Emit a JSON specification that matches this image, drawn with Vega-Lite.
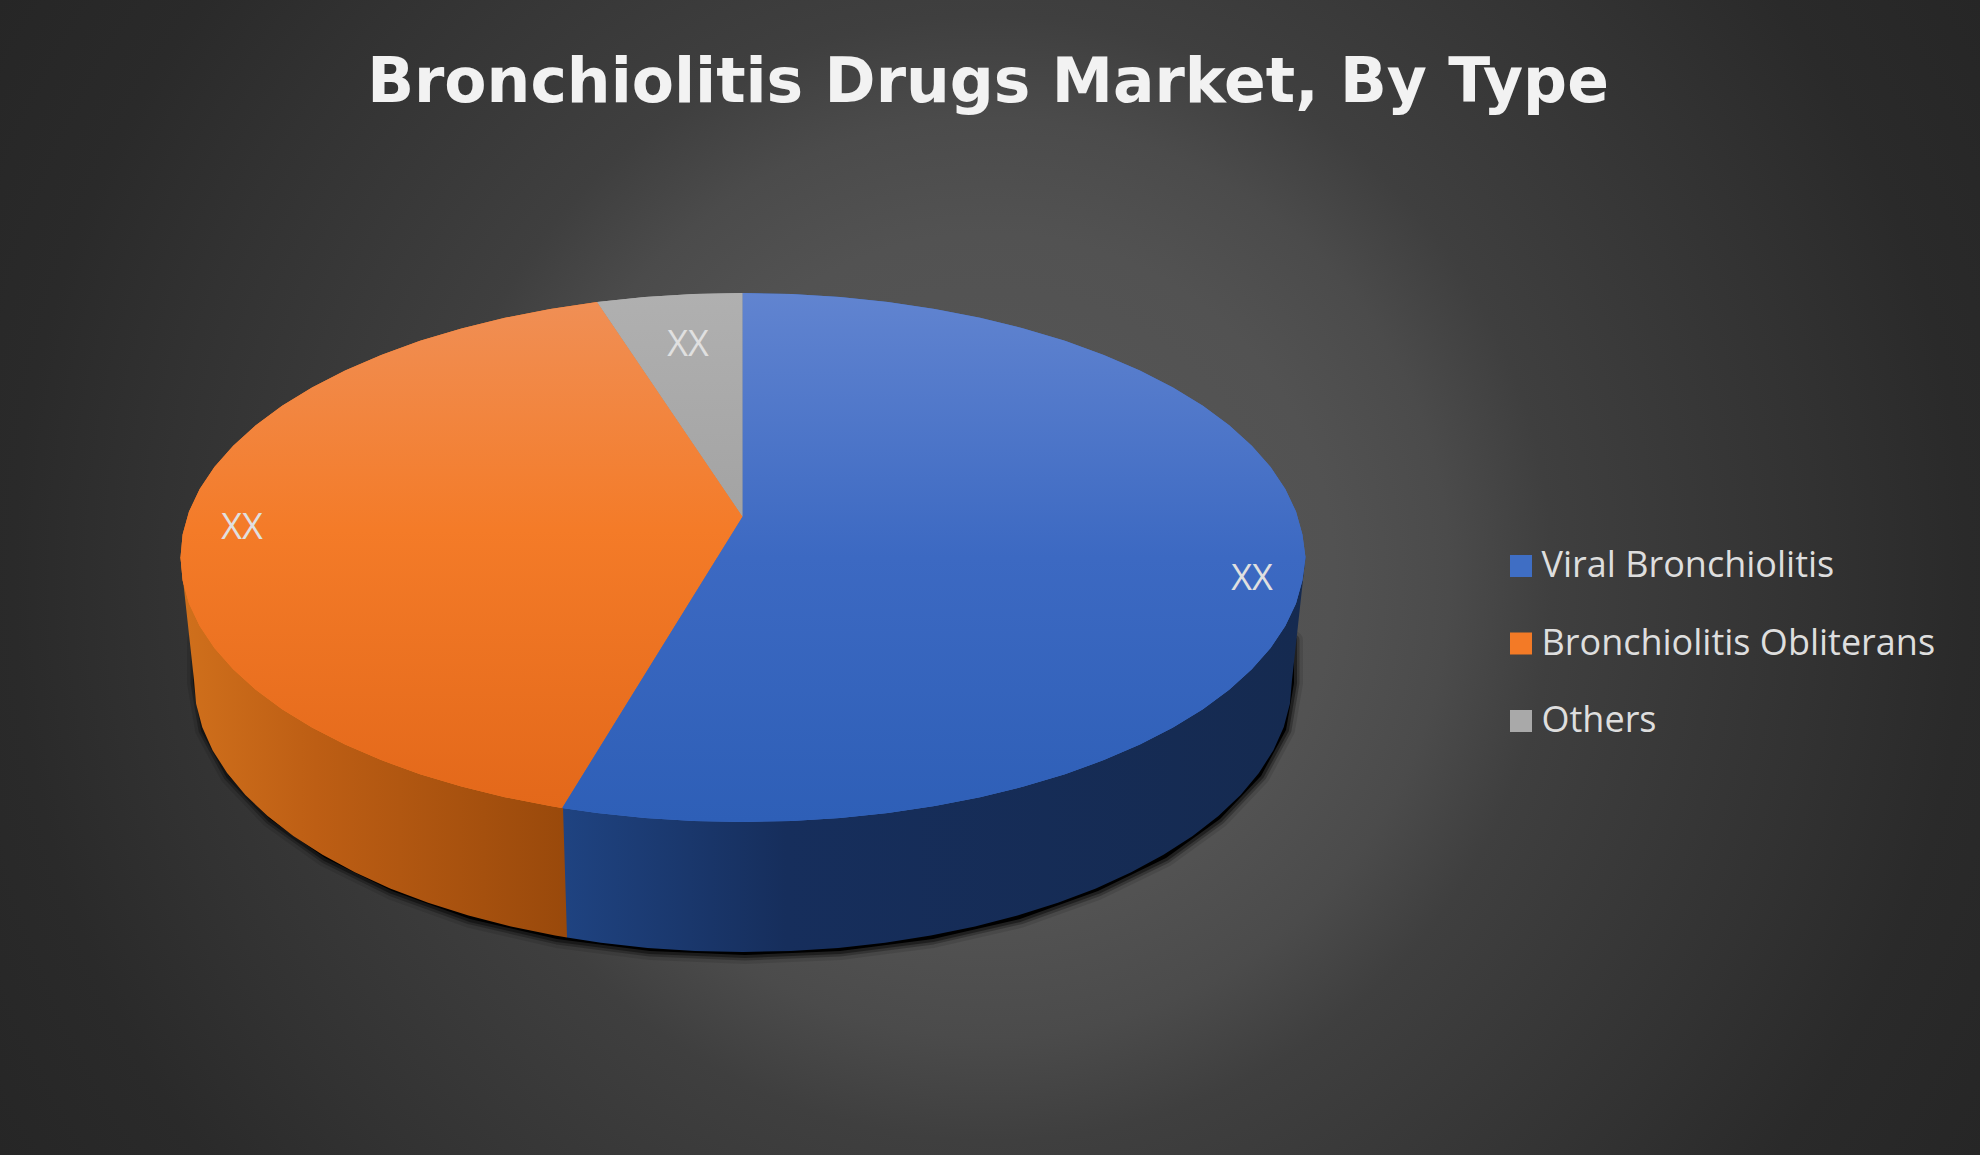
{
"$schema":"https://vega.github.io/schema/vega-lite/v6.json",
"width":1980,"height":1155,"autosize":"none","padding":0,"background":"#2b2b2b",
"config":{"view":{"stroke":null}},
"datasets":{
"backdrop":[{"x":0,"x2":1980,"y":-412,"y2":1568}],
"shadow":[{"x":196,"y":640,"y2":683},{"x":204,"y":640,"y2":730},{"x":229,"y":640,"y2":776},{"x":270,"y":640,"y2":819},{"x":325,"y":640,"y2":858},{"x":392,"y":640,"y2":891},{"x":470,"y":640,"y2":919},{"x":557,"y":640,"y2":939},{"x":650,"y":640,"y2":951},{"x":745,"y":640,"y2":955},{"x":840,"y":640,"y2":951},{"x":933,"y":640,"y2":939},{"x":1020,"y":640,"y2":919},{"x":1098,"y":640,"y2":891},{"x":1166,"y":640,"y2":858},{"x":1220,"y":640,"y2":819},{"x":1261,"y":640,"y2":776},{"x":1286,"y":640,"y2":730},{"x":1294,"y":640,"y2":683}],
"sideOrange":[{"x":180.5,"y":557,"y2":557},{"x":194,"y":557,"y2":680},{"x":196.1,"y":557,"y2":703.7},{"x":202.3,"y":557,"y2":727.2},{"x":212.7,"y":557,"y2":750.4},{"x":227.1,"y":557,"y2":773},{"x":245.4,"y":557,"y2":795},{"x":267.6,"y":557,"y2":816},{"x":293.3,"y":557,"y2":836},{"x":322.5,"y":557,"y2":854.8},{"x":354.8,"y":557,"y2":872.3},{"x":390.1,"y":557,"y2":888.4},{"x":428.1,"y":557,"y2":902.8},{"x":468.5,"y":557,"y2":915.6},{"x":511,"y":557,"y2":926.5},{"x":555.2,"y":557,"y2":935.6},{"x":567,"y":557,"y2":937.5}],
"sideBlue":[{"x":563,"y":808,"y2":808},{"x":567,"y":700,"y2":937.5},{"x":600.9,"y":557,"y2":942.7},{"x":647.7,"y":557,"y2":947.9},{"x":695.1,"y":557,"y2":951},{"x":743,"y":557,"y2":952},{"x":790.9,"y":557,"y2":951},{"x":838.3,"y":557,"y2":947.9},{"x":885.1,"y":557,"y2":942.7},{"x":930.8,"y":557,"y2":935.6},{"x":975,"y":557,"y2":926.5},{"x":1017.5,"y":557,"y2":915.6},{"x":1057.9,"y":557,"y2":902.8},{"x":1095.9,"y":557,"y2":888.4},{"x":1131.2,"y":557,"y2":872.3},{"x":1163.5,"y":557,"y2":854.8},{"x":1192.7,"y":557,"y2":836},{"x":1218.4,"y":557,"y2":816},{"x":1240.6,"y":557,"y2":795},{"x":1258.9,"y":557,"y2":773},{"x":1273.3,"y":557,"y2":750.4},{"x":1283.7,"y":557,"y2":727.2},{"x":1289.9,"y":557,"y2":703.7},{"x":1292,"y":557,"y2":680},{"x":1305.5,"y":557,"y2":557}],
"faces":[
{"slice":"Bronchiolitis Obliterans","x":180.5,"y":557.5,"y2":557.5},{"slice":"Bronchiolitis Obliterans","x":182.6,"y":534.4,"y2":580.6},{"slice":"Bronchiolitis Obliterans","x":189,"y":511.6,"y2":603.4},{"slice":"Bronchiolitis Obliterans","x":199.7,"y":489,"y2":626},{"slice":"Bronchiolitis Obliterans","x":214.4,"y":467,"y2":648},{"slice":"Bronchiolitis Obliterans","x":233.2,"y":445.7,"y2":669.3},{"slice":"Bronchiolitis Obliterans","x":255.8,"y":425.2,"y2":689.8},{"slice":"Bronchiolitis Obliterans","x":282.1,"y":405.8,"y2":709.2},{"slice":"Bronchiolitis Obliterans","x":312,"y":387.5,"y2":727.5},{"slice":"Bronchiolitis Obliterans","x":345.1,"y":370.5,"y2":744.5},{"slice":"Bronchiolitis Obliterans","x":381.2,"y":354.9,"y2":760.1},{"slice":"Bronchiolitis Obliterans","x":420.1,"y":340.8,"y2":774.2},{"slice":"Bronchiolitis Obliterans","x":461.5,"y":328.4,"y2":786.6},{"slice":"Bronchiolitis Obliterans","x":505,"y":317.8,"y2":797.2},{"slice":"Bronchiolitis Obliterans","x":550.3,"y":309,"y2":806},{"slice":"Bronchiolitis Obliterans","x":562,"y":307.2,"y2":808},{"slice":"Bronchiolitis Obliterans","x":597.1,"y":302,"y2":751.3},{"slice":"Bronchiolitis Obliterans","x":644.9,"y":372.5,"y2":674.1},{"slice":"Bronchiolitis Obliterans","x":693.5,"y":444.2,"y2":595.6},{"slice":"Bronchiolitis Obliterans","x":742.5,"y":516.5,"y2":516.5},
{"slice":"Others","x":597.1,"y":302,"y2":302},{"slice":"Others","x":644.9,"y":297,"y2":372.5},{"slice":"Others","x":693.5,"y":294,"y2":444.2},{"slice":"Others","x":742.5,"y":293,"y2":516.5},
{"slice":"Viral Bronchiolitis","x":562,"y":808,"y2":808},{"slice":"Viral Bronchiolitis","x":597.1,"y":751.3,"y2":813},{"slice":"Viral Bronchiolitis","x":644.9,"y":674.1,"y2":818},{"slice":"Viral Bronchiolitis","x":693.5,"y":595.6,"y2":821},{"slice":"Viral Bronchiolitis","x":742.5,"y":516.5,"y2":822},{"slice":"Viral Bronchiolitis","x":742.5,"y":293,"y2":822},{"slice":"Viral Bronchiolitis","x":791.5,"y":294,"y2":821},{"slice":"Viral Bronchiolitis","x":840.1,"y":297,"y2":818},{"slice":"Viral Bronchiolitis","x":887.9,"y":302,"y2":813},{"slice":"Viral Bronchiolitis","x":934.7,"y":309,"y2":806},{"slice":"Viral Bronchiolitis","x":980,"y":317.8,"y2":797.2},{"slice":"Viral Bronchiolitis","x":1023.5,"y":328.4,"y2":786.6},{"slice":"Viral Bronchiolitis","x":1064.9,"y":340.8,"y2":774.2},{"slice":"Viral Bronchiolitis","x":1103.8,"y":354.9,"y2":760.1},{"slice":"Viral Bronchiolitis","x":1139.9,"y":370.5,"y2":744.5},{"slice":"Viral Bronchiolitis","x":1173,"y":387.5,"y2":727.5},{"slice":"Viral Bronchiolitis","x":1202.9,"y":405.8,"y2":709.2},{"slice":"Viral Bronchiolitis","x":1229.2,"y":425.2,"y2":689.8},{"slice":"Viral Bronchiolitis","x":1251.8,"y":445.7,"y2":669.3},{"slice":"Viral Bronchiolitis","x":1270.6,"y":467,"y2":648},{"slice":"Viral Bronchiolitis","x":1285.3,"y":489,"y2":626},{"slice":"Viral Bronchiolitis","x":1296,"y":511.6,"y2":603.4},{"slice":"Viral Bronchiolitis","x":1302.4,"y":534.4,"y2":580.6},{"slice":"Viral Bronchiolitis","x":1305.5,"y":557.5,"y2":557.5}],
"labels":[{"x":242,"y":528,"text":"XX"},{"x":688,"y":345,"text":"XX"},{"x":1252,"y":579,"text":"XX"}],
"heading":[{"x":988,"y":84,"text":"Bronchiolitis Drugs Market, By Type"}]
},
"encoding":{
"x":{"field":"x","type":"quantitative","axis":null,"scale":{"domain":[0,1980],"nice":false,"zero":false}},
"y":{"field":"y","type":"quantitative","axis":null,"scale":{"domain":[1155,0],"nice":false,"zero":false}}
},
"layer":[
{"data":{"name":"backdrop"},"mark":{"type":"rect","fill":{"gradient":"radial","x1":0.5,"y1":0.5,"r1":0,"x2":0.5,"y2":0.5,"r2":0.58,"stops":[{"offset":0,"color":"#585858"},{"offset":0.3,"color":"#525252"},{"offset":0.4,"color":"#4b4b4b"},{"offset":0.49,"color":"#3f3f3f"},{"offset":0.72,"color":"#323232"},{"offset":0.85,"color":"#2a2a2a"},{"offset":1,"color":"#262626"}]}},"encoding":{"x2":{"field":"x2"},"y2":{"field":"y2"}}},
{"data":{"name":"shadow"},"mark":{"type":"area","orient":"vertical","fill":"#000","stroke":"#000","strokeWidth":18,"strokeOpacity":0.1,"fillOpacity":0,"strokeJoin":"round"},"encoding":{"y2":{"field":"y2"}}},
{"data":{"name":"shadow"},"mark":{"type":"area","orient":"vertical","fill":"#000","stroke":"#000","strokeWidth":11,"strokeOpacity":0.25,"fillOpacity":0,"strokeJoin":"round"},"encoding":{"y2":{"field":"y2"}}},
{"data":{"name":"shadow"},"mark":{"type":"area","orient":"vertical","fill":"#000","stroke":"#000","strokeWidth":6,"strokeOpacity":0.4,"fillOpacity":1,"strokeJoin":"round"},"encoding":{"y2":{"field":"y2"}}},
{"data":{"name":"sideOrange"},"mark":{"type":"area","orient":"vertical","fill":{"gradient":"linear","x1":0,"y1":0,"x2":1,"y2":0,"stops":[{"offset":0,"color":"#d0701c"},{"offset":0.35,"color":"#bd5e14"},{"offset":1,"color":"#99490b"}]}},"encoding":{"y2":{"field":"y2"}}},
{"data":{"name":"sideBlue"},"mark":{"type":"area","orient":"vertical","fill":{"gradient":"linear","x1":0,"y1":0,"x2":1,"y2":0,"stops":[{"offset":0,"color":"#1f4381"},{"offset":0.3,"color":"#162e5c"},{"offset":1,"color":"#152a50"}]}},"encoding":{"y2":{"field":"y2"}}},
{"data":{"name":"faces"},"mark":{"type":"area","orient":"vertical"},"encoding":{"y2":{"field":"y2"},"color":{"field":"slice","type":"nominal","scale":{"domain":["Viral Bronchiolitis","Bronchiolitis Obliterans","Others"],"range":["#3f6ec4","#f37a26","#a9a9a9"]},"legend":{"orient":"none","legendX":1503,"legendY":548,"title":null,"symbolType":"square","symbolSize":484,"symbolStrokeWidth":0,"labelFont":"Open Sans","labelFontSize":36,"labelColor":"#dedede","labelOffset":2.5,"labelLimit":600,"rowPadding":41.5}}}},
{"data":{"name":"faces"},"transform":[{"filter":"datum.slice==='Viral Bronchiolitis'"}],"mark":{"type":"area","orient":"vertical","fill":{"gradient":"linear","x1":0,"y1":0,"x2":0,"y2":1,"stops":[{"offset":0,"color":"#6184d0"},{"offset":0.5,"color":"#3c69c2"},{"offset":1,"color":"#2e5fb7"}]}},"encoding":{"y2":{"field":"y2"}}},
{"data":{"name":"faces"},"transform":[{"filter":"datum.slice==='Bronchiolitis Obliterans'"}],"mark":{"type":"area","orient":"vertical","fill":{"gradient":"linear","x1":0,"y1":0,"x2":0,"y2":1,"stops":[{"offset":0,"color":"#f08f55"},{"offset":0.45,"color":"#f47b28"},{"offset":1,"color":"#e3681a"}]}},"encoding":{"y2":{"field":"y2"}}},
{"data":{"name":"faces"},"transform":[{"filter":"datum.slice==='Others'"}],"mark":{"type":"area","orient":"vertical","fill":{"gradient":"linear","x1":0,"y1":0,"x2":0,"y2":1,"stops":[{"offset":0,"color":"#b0b0b0"},{"offset":1,"color":"#a3a3a3"}]}},"encoding":{"y2":{"field":"y2"}}},
{"data":{"name":"labels"},"mark":{"type":"text","font":"Open Sans","fontSize":36,"color":"#e0e0e0","align":"center","baseline":"middle"},"encoding":{"text":{"field":"text"}}},
{"data":{"name":"heading"},"mark":{"type":"text","font":"DejaVu Sans","fontSize":61.5,"fontWeight":"bold","color":"#f2f2f2","align":"center","baseline":"middle"},"encoding":{"text":{"field":"text"}}}
]
}
